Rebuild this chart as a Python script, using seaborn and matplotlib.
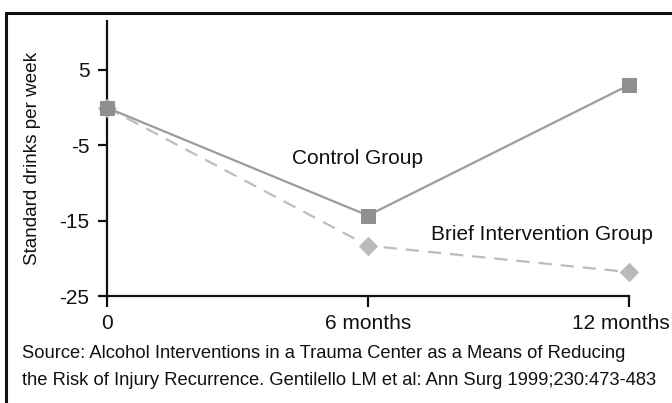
import matplotlib
matplotlib.use("Agg")
import matplotlib.pyplot as plt
import matplotlib.transforms as mtransforms
import seaborn as sns
import pandas as pd

# values
months = [0, 6, 12]
month_labels = ["0", "6 months", "12 months"]
control = [0, -14.3, 3.0]
brief = [0, -18.3, -21.8]
y_ticks = [5, -5, -15, -25]

sns.set_theme(style="white")
plt.rcParams['font.family'] = ['Liberation Sans', 'DejaVu Sans']

df = pd.DataFrame({"month": months, "control": control, "brief": brief})

fig = plt.figure(figsize=(6.72, 4.03), dpi=100)
ax = fig.add_axes([0.159, 0.265, 0.777, 0.683])

sns.lineplot(data=df, x="month", y="brief", ax=ax, color="#bdbdbd", linewidth=1.6,
             linestyle=(0, (6, 4)), marker="D", markersize=9, markerfacecolor="#bababa",
             markeredgecolor="#bababa", clip_on=False, zorder=3)
sns.lineplot(data=df, x="month", y="control", ax=ax, color="#9b9b9b", linewidth=1.6,
             marker="s", markersize=10, markerfacecolor="#8f8f8f",
             markeredgecolor="#8f8f8f", clip_on=False, zorder=4)

ax.set_xlim(0, 12)
ax.set_ylim(-25, 11.5)
ax.set_xticks(months)
ax.set_xticklabels(month_labels)
ax.set_yticks(y_ticks)
ax.set_yticklabels([str(v) for v in y_ticks])
ax.set_xlabel("")
ax.set_ylabel("Standard drinks per week", fontsize=13.6, color="#111111", labelpad=13)

for s in ["top", "right"]:
    ax.spines[s].set_visible(False)
for s in ["left", "bottom"]:
    ax.spines[s].set_color("#111111")
    ax.spines[s].set_linewidth(1.6)

ax.tick_params(axis="both", which="major", direction="out", width=1.6,
               color="#111111", labelsize=15, labelcolor="#111111", left=True, bottom=True)
ax.tick_params(axis="x", length=8, pad=4.5)
ax.tick_params(axis="y", length=6.5, pad=6)

# last x label sits a little left of its tick, as in the original slide
last = ax.get_xticklabels()[-1]
last.set_transform(last.get_transform() +
                   mtransforms.ScaledTranslation(-8 / 100, 0, fig.dpi_scale_trans))

ax.text(5.77, -6.8, "Control Group", fontsize=15, color="#111111", ha="center", va="center")
ax.text(10.0, -16.8, "Brief Intervention Group", fontsize=15, color="#111111",
        ha="center", va="center")

fig.text(0.032, 0.122, "Source: Alcohol Interventions in a Trauma Center as a Means of Reducing",
         fontsize=13.2, color="#111111", ha="left", va="center")
fig.text(0.032, 0.055, "the Risk of Injury Recurrence. Gentilello LM et al: Ann Surg 1999;230:473-483",
         fontsize=13.2, color="#111111", ha="left", va="center")

# frame around the slide
fig.add_artist(plt.Line2D([0.009, 1.0], [0.968, 0.968], color="#111111", linewidth=2.2,
                          transform=fig.transFigure))
fig.add_artist(plt.Line2D([0.009, 0.009], [0.0, 0.968], color="#111111", linewidth=2.2,
                          transform=fig.transFigure))

fig.savefig("out.png", dpi=100, facecolor="white")
